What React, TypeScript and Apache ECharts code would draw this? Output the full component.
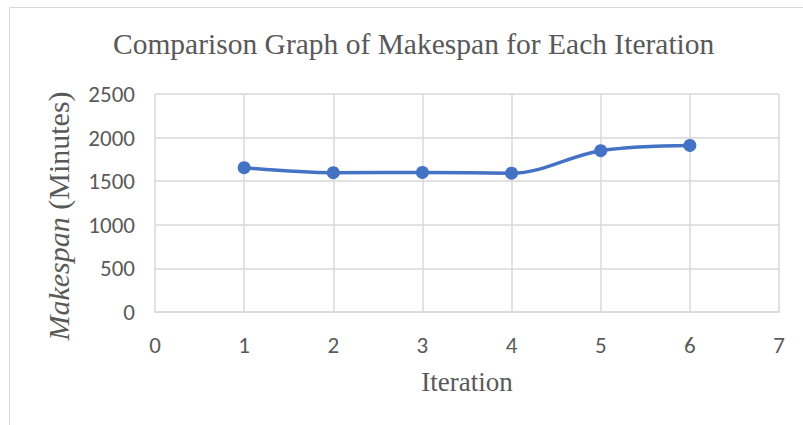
import React, { useEffect, useRef } from "react";
import * as echarts from "echarts";

const iterations = [1, 2, 3, 4, 5, 6];
const makespan = [1655, 1598, 1600, 1592, 1850, 1910];
const xTicks = [0, 1, 2, 3, 4, 5, 6, 7];
const yTicks = [0, 500, 1000, 1500, 2000, 2500];

const titleText = "Comparison Graph of Makespan for Each Iteration";
const xName = "Iteration";

export default function App() {
  const ref = useRef<HTMLDivElement>(null);
  useEffect(() => {
    document.body.style.margin = "0";
    const chart = echarts.init(ref.current!, null, { renderer: "svg" });
    const serif = '"Liberation Serif", "Times New Roman", serif';
    const sans = 'Carlito, "Open Sans", sans-serif';
    chart.setOption({
      animation: false,
      backgroundColor: "#ffffff",
      title: {
        text: titleText,
        left: 113,
        top: 29,
        padding: 0,
        textStyle: { fontFamily: serif, fontSize: 29.5, fontWeight: "normal", color: "#595959" },
      },
      graphic: [
        {
          type: "rect",
          shape: { x: 9.5, y: 7.5, width: 900, height: 500 },
          style: { fill: "none", stroke: "#d9d9d9", lineWidth: 1 },
          silent: true,
        },
      ],
      grid: { left: 155, top: 94, right: 24, bottom: 113 },
      xAxis: {
        type: "value",
        min: xTicks[0],
        max: xTicks[xTicks.length - 1],
        interval: 1,
        name: xName,
        nameLocation: "middle",
        nameGap: 56,
        nameTextStyle: { fontFamily: serif, fontSize: 27, color: "#595959" },
        axisLine: { show: true, lineStyle: { color: "#d9d9d9", width: 1.5 } },
        axisTick: { show: false },
        splitLine: { show: true, lineStyle: { color: "#d9d9d9", width: 1.5 } },
        axisLabel: { fontFamily: sans, fontSize: 23, color: "#595959", margin: 21, formatter: (v: number) => String(v) },
      },
      yAxis: {
        type: "value",
        min: yTicks[0],
        max: yTicks[yTicks.length - 1],
        interval: 500,
        name: "{i|Makespan} (Minutes)",
        nameLocation: "middle",
        nameRotate: 90,
        nameGap: 82,
        nameTextStyle: {
          fontFamily: serif,
          fontSize: 30,
          color: "#595959",
          padding: [0, 26, 0, 0],
          rich: { i: { fontFamily: serif, fontSize: 30, fontStyle: "italic", color: "#595959" } },
        },
        axisLine: { show: false },
        axisTick: { show: false },
        splitLine: { show: true, lineStyle: { color: "#d9d9d9", width: 1.5 } },
        axisLabel: { fontFamily: sans, fontSize: 23, color: "#595959", margin: 20, formatter: (v: number) => String(v) },
      },
      series: [
        {
          type: "line",
          data: iterations.map((x, i) => [x, makespan[i]]),
          smooth: 0.35,
          symbol: "circle",
          symbolSize: 13,
          lineStyle: { color: "#4472C4", width: 3.5 },
          itemStyle: { color: "#4472C4" },
        },
      ],
    });
    return () => chart.dispose();
  }, []);
  return <div ref={ref} style={{ width: 803, height: 425 }} />;
}
